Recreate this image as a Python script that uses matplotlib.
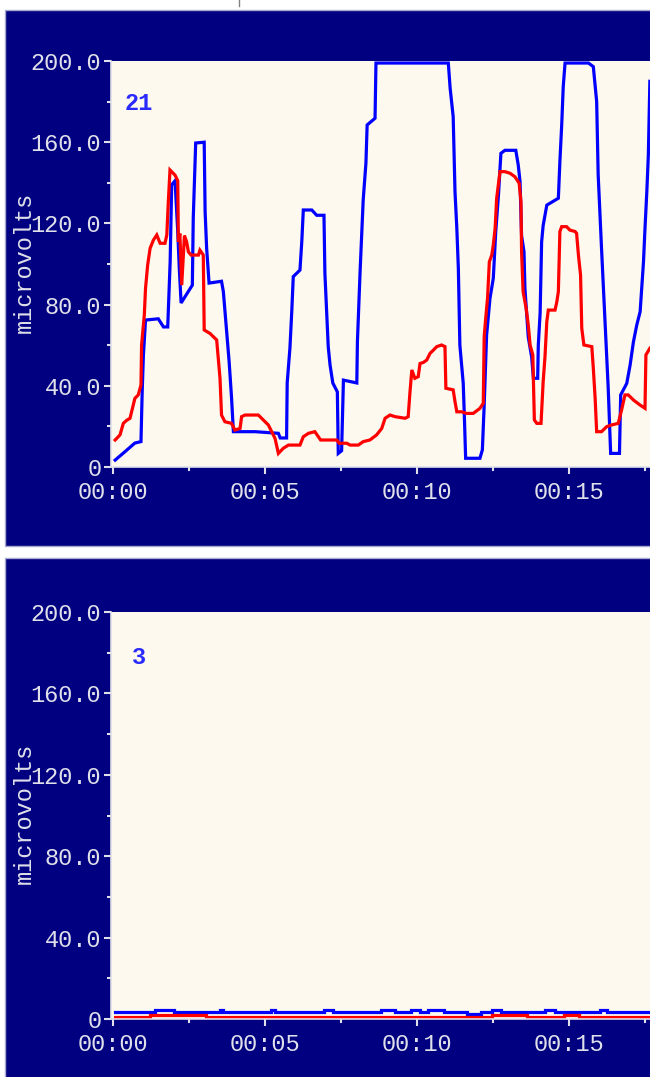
import matplotlib
matplotlib.use("Agg")
import matplotlib.pyplot as plt
from matplotlib.patches import Rectangle
from matplotlib.lines import Line2D
from matplotlib.ticker import MultipleLocator, FuncFormatter, FixedLocator

# ---------------- data ----------------
# Panel "21" (time in minutes, values in microvolts)
t_blue1 = [0.07, 0.39, 0.72, 0.92, 0.96, 1.0, 1.07, 1.49, 1.66, 1.80, 1.84, 1.88, 1.93, 2.04, 2.13,
           2.18, 2.24, 2.61, 2.64, 2.72, 3.0, 3.03, 3.08, 3.16, 3.57, 3.63, 3.82, 3.90, 3.96, 4.67,
           5.44, 5.50, 5.71, 5.73, 5.82, 5.88, 5.93, 6.15, 6.21, 6.26, 6.54, 6.70, 6.94, 6.97, 7.08,
           7.14, 7.23, 7.38, 7.41, 7.52, 7.58, 8.02, 8.04, 8.13, 8.23, 8.32, 8.36, 8.62, 8.65, 11.03,
           11.09, 11.19, 11.25, 11.31, 11.36, 11.41, 11.52, 11.56, 11.60, 12.07, 12.15, 12.21, 12.29,
           12.40, 12.51, 12.59, 12.68, 12.76, 12.89, 13.25, 13.33, 13.39, 13.44, 13.52, 13.55, 13.66,
           13.77, 13.83, 13.97, 13.99, 14.05, 14.10, 14.15, 14.27, 14.65, 14.70, 14.76, 14.81, 14.87,
           15.64, 15.80, 15.91, 15.96, 16.07, 16.18, 16.29, 16.37, 16.66, 16.70, 16.90, 17.01, 17.12,
           17.23, 17.34, 17.45, 17.50, 17.56, 17.61, 17.66]
v_blue1 = [3.4, 7.5, 11.8, 12.5, 37, 55, 72.4, 73, 69, 69, 85, 101, 139, 141, 116,
           98, 80.8, 89.6, 122.6, 159.6, 160, 125.8, 107.8, 90.6, 91.5, 86.4, 51.9, 34, 17.4, 17.4,
           16.6, 14.3, 14.3, 41.4, 58.6, 76.5, 93.8, 97, 111, 126.6, 126.6, 124, 124, 95.6, 59.3,
           50.2, 41.4, 37, 6.7, 8, 42.8, 41.4, 61.7, 97, 131.5, 149.7, 168.5, 171.8, 199, 199,
           186.6, 172.6, 135.6, 117.6, 97.9, 60, 41.4, 24, 4.3, 4.3, 8.4, 30.5, 65,
           83, 93, 116, 134, 154.5, 156, 156, 148.8, 140.5, 114, 106, 88, 64,
           54.3, 43.7, 43.7, 60, 75.8, 111, 119, 129, 132.4, 150.4, 168.5, 187.3, 199,
           199, 197.2, 180, 143.8, 107.7, 73.2, 38.8, 6.7, 6.7, 35.5, 41.2, 50.2, 61.7,
           70, 76.5, 101, 117.6, 135.6, 153.7, 190]

t_red1 = [0.07, 0.23, 0.34, 0.45, 0.56, 0.64, 0.72, 0.83, 0.92, 0.94, 1.03, 1.07, 1.14, 1.22, 1.33,
          1.44, 1.55, 1.71, 1.77, 1.82, 1.875, 2.04, 2.13, 2.15, 2.20, 2.26, 2.35, 2.42, 2.48, 2.57,
          2.81, 2.86, 2.97, 3.0, 3.19, 3.41, 3.52, 3.57, 3.68, 3.90, 4.01, 4.18, 4.23, 4.34, 4.78,
          4.94, 5.11, 5.22, 5.33, 5.44, 5.60, 5.77, 6.15, 6.26, 6.43, 6.64, 6.83, 7.36, 7.44, 7.69,
          7.80, 8.07, 8.23, 8.45, 8.67, 8.84, 8.95, 9.11, 9.28, 9.61, 9.71, 9.77, 9.83, 9.93, 10.04,
          10.10, 10.21, 10.32, 10.43, 10.54, 10.65, 10.81, 10.92, 10.95, 11.19, 11.25, 11.31, 11.47,
          11.63, 11.85, 12.07, 12.18, 12.21, 12.26, 12.32, 12.38, 12.46, 12.51, 12.57, 12.62, 12.73,
          12.89, 13.06, 13.22, 13.36, 13.42, 13.44, 13.49, 13.59, 13.66, 13.72, 13.81, 13.86, 13.94,
          14.08, 14.15, 14.21, 14.27, 14.32, 14.54, 14.60, 14.65, 14.70, 14.76, 14.92, 15.03, 15.20,
          15.25, 15.31, 15.38, 15.42, 15.49, 15.75, 15.80, 15.86, 15.91, 16.07, 16.24, 16.40, 16.62,
          16.73, 16.84, 16.95, 17.12, 17.34, 17.50, 17.53, 17.66]
v_red1 = [13.3, 15.8, 21.5, 23, 24, 28.9, 33.8, 35.5, 40.4, 60, 74.9, 88, 99.5, 107.7, 111.8,
          114.3, 110.2, 110.2, 114.3, 130.7, 146.3, 143.8, 141, 111, 115, 89.6, 114, 111, 106, 104.4,
          104.4, 106.8, 104.4, 67.5, 65.8, 62.6, 43.7, 25.6, 22.3, 21.5, 18.2, 19, 24.8, 25.6, 25.6,
          23.2, 20.7, 17.4, 14.1, 6.7, 9.2, 10.8, 10.8, 14.9, 16.6, 17.4, 13.3, 13.3, 11.7, 11.7,
          10.8, 10.8, 12.5, 13.3, 15.8, 19, 24, 25.6, 24.8, 24, 24.8, 37.1, 47.8, 43.7, 44.5,
          51, 51.5, 52.7, 56, 57.6, 59.3, 60.1, 59.3, 38.8, 38, 32.2, 27.2, 27.2,
          26.4, 26.4, 28.9, 31.4, 64.2, 73.2, 83.1, 101.1, 104.4, 109.4, 117.6, 132.3, 145.5,
          145.5, 144.7, 143, 139.8, 130.7, 106, 86.4, 78.2, 70, 60.1, 55.2, 23.2, 21.5,
          21.5, 42, 54.3, 71.6, 77.3, 77.3, 81.4, 86.4, 116, 118.4, 118.4, 116.7, 116,
          115.1, 104.4, 94.6, 68.3, 60.1, 59.3, 48.6, 33.8, 17.4, 17.4, 19.9, 20.7, 21.5,
          28.1, 35.5, 35.5, 33, 30.5, 28.9, 55.2, 58.5]

# Panel "3" (step changes)
t_blue2 = [0.07, 1.38, 2.02, 3.51, 3.62, 5.20, 5.32, 6.94, 7.23, 8.83, 9.28, 9.80, 10.09,
           10.37, 10.89, 11.63, 12.09, 12.48, 12.77, 14.20, 14.54, 16.03, 16.26, 17.66]
v_blue2 = [3.2, 4.2, 3.2, 4.2, 3.2, 4.2, 3.2, 4.2, 3.2, 4.2, 3.2, 4.2, 3.2,
           4.2, 3.2, 2.4, 3.2, 4.2, 3.2, 4.2, 3.2, 4.2, 3.2, 3.2]
t_red2 = [0.07, 1.22, 3.05, 12.48, 13.63, 14.83, 15.34, 17.66]
v_red2 = [1.2, 1.8, 1.2, 1.8, 1.2, 1.8, 1.2, 1.2]

panel_labels = ["21", "3"]
y_label = "microvolts"
x_tick_vals = [0, 5, 10, 15]
x_tick_labels = ["00:00", "00:05", "00:10", "00:15"]

# ---------------- style ----------------
W, H = 650, 1077
NAVY = "#000080"
CREAM = "#fdf9ee"
LIGHT = "#e0e0ea"
FONT = "Liberation Mono"
FS = 17

fig = plt.figure(figsize=(W / 100, H / 100), dpi=100)
fig.patch.set_facecolor("white")

def fx(px):
    return px / W

def fy(py):
    return 1 - py / H

# navy panel backgrounds
for top, bottom in [(10, 546), (558, 1090)]:
    fig.patches.append(Rectangle((fx(5), fy(bottom)), fx(700), (bottom - top) / H,
                                 transform=fig.transFigure, facecolor=NAVY,
                                 edgecolor="#a8a8d0", linewidth=1.0, zorder=-5))

# small mark at the top
fig.lines.append(Line2D([fx(239), fx(239)], [fy(0), fy(6)], transform=fig.transFigure,
                        color="#808080", linewidth=1))

px_per_unit = 30.4
xlim = (-2 / px_per_unit, 537 / px_per_unit)

panels = [
    dict(top=61, bottom=467, tb=t_blue1, vb=v_blue1, tr=t_red1, vr=v_red1, steps=False,
         label=panel_labels[0], label_pos=(125, 104), ylab_y=262),
    dict(top=612, bottom=1019, tb=t_blue2, vb=v_blue2, tr=t_red2, vr=v_red2, steps=True,
         label=panel_labels[1], label_pos=(132, 657), ylab_y=813),
]

for p in panels:
    ax = fig.add_axes([fx(111), fy(p["bottom"]), fx(650 - 111), (p["bottom"] - p["top"]) / H])
    ax.set_zorder(1)
    ax.set_facecolor(CREAM)
    ds = "steps-post" if p["steps"] else "default"
    ax.plot(p["tb"], p["vb"], color="#0000ff", linewidth=2.3, drawstyle=ds, solid_joinstyle="miter")
    ax.plot(p["tr"], p["vr"], color="#ff0000", linewidth=2.3, drawstyle=ds, solid_joinstyle="miter")
    ax.set_xlim(*xlim)
    ax.set_ylim(0, 200)
    for s in ["top", "right"]:
        ax.spines[s].set_visible(False)
    for s in ["left", "bottom"]:
        ax.spines[s].set_color(LIGHT)
        ax.spines[s].set_linewidth(1.2)
    ax.yaxis.set_major_locator(MultipleLocator(40))
    ax.yaxis.set_minor_locator(MultipleLocator(20))
    ax.yaxis.set_major_formatter(FuncFormatter(lambda v, pos: "0" if v == 0 else f"{v:.1f}"))
    ax.xaxis.set_major_locator(FixedLocator(x_tick_vals))
    ax.set_xticklabels(x_tick_labels)
    ax.xaxis.set_minor_locator(FixedLocator([2.5, 7.5, 12.5, 17.5]))
    ax.tick_params(axis="both", which="major", direction="out", color=LIGHT, width=1.5,
                   length=5, labelcolor=LIGHT, labelsize=FS)
    ax.tick_params(axis="both", which="minor", direction="out", color=LIGHT, width=1.5, length=3)
    ax.tick_params(axis="y", which="major", pad=2)
    ax.tick_params(axis="x", which="major", pad=5)
    for lab in ax.get_xticklabels() + ax.get_yticklabels():
        lab.set_family(FONT)
    fig.text(fx(24), fy(p["ylab_y"]), y_label, rotation=90, ha="center", va="center",
             color=LIGHT, fontsize=FS, family=FONT, zorder=0)
    fig.text(fx(p["label_pos"][0]), fy(p["label_pos"][1]), p["label"], ha="left", va="center",
             color="#2a2aff", fontsize=FS, family=FONT, fontweight="bold", zorder=5)

fig.savefig("out.png", dpi=100, facecolor="white")
